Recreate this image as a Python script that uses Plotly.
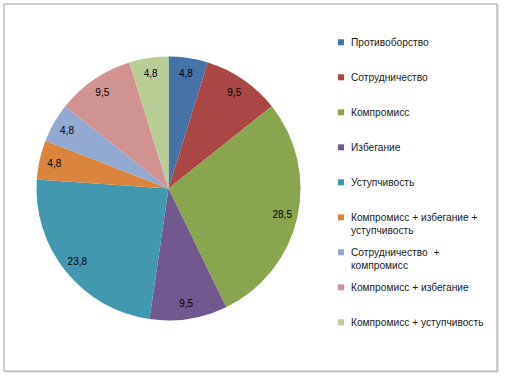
import plotly.graph_objects as go

labels = [
    "Противоборство",
    "Сотрудничество",
    "Компромисс",
    "Избегание",
    "Уступчивость",
    "Компромисс + избегание +<br>уступчивость",
    "Сотрудничество  +<br>компромисс",
    "Компромисс + избегание",
    "Компромисс + уступчивость",
]
values = [4.8, 9.5, 28.5, 9.5, 23.8, 4.8, 4.8, 9.5, 4.8]
colors = ["#4572A7", "#AA4643", "#89A54E", "#71588F", "#4198AF",
          "#DB843D", "#93A9CF", "#D19392", "#B9CD96"]

W, H = 505, 379
FONT = "Liberation Sans"

value_text = [f"{v:.1f}".replace(".", ",") for v in values]

# pie geometry (px): centre and radius
cx, cy, R = 168.5, 188.5, 132
dom_x = [(cx - R) / W, (cx + R) / W]
dom_y = [1 - (cy + R) / H, 1 - (cy - R) / H]

fig = go.Figure()
fig.add_trace(go.Pie(
    labels=[l.replace("<br>", " ") for l in labels], values=values, sort=False,
    direction="clockwise", rotation=0,
    marker=dict(colors=colors, line=dict(width=0)),
    textinfo="none", showlegend=False, hoverinfo="label+value",
    domain=dict(x=dom_x, y=dom_y),
))
# transparent ring carrying the data labels near the outer edge
fig.add_trace(go.Pie(
    labels=[l.replace("<br>", " ") for l in labels], values=values, sort=False,
    direction="clockwise", rotation=0, hole=0.77,
    marker=dict(colors=["rgba(0,0,0,0)"] * len(values), line=dict(width=0)),
    text=value_text, textinfo="text", textposition="inside",
    insidetextorientation="horizontal",
    textfont=dict(family=FONT, size=10, color="#000000"),
    showlegend=False, hoverinfo="skip",
    domain=dict(x=dom_x, y=dom_y),
))

# manual legend (Excel style spacing)
shapes = [
    # soft shadow on right/bottom edges
    dict(type="line", xref="paper", yref="paper",
         x0=498 / W, x1=498 / W, y0=1 - 372 / H, y1=1 - 5 / H,
         line=dict(color="#DADADA", width=1.5)),
    dict(type="line", xref="paper", yref="paper",
         x0=5 / W, x1=498 / W, y0=1 - 372 / H, y1=1 - 372 / H,
         line=dict(color="#DADADA", width=1.5)),
    dict(type="rect", xref="paper", yref="paper",
         x0=4 / W, x1=497 / W, y0=1 - 371 / H, y1=1 - 4 / H,
         line=dict(color="#BFBFBF", width=1.5), fillcolor="rgba(0,0,0,0)"),
]
annotations = []
for i, (lab, col) in enumerate(zip(labels, colors)):
    ym = 42.3 + 35.0 * i
    shapes.append(dict(type="rect", xref="paper", yref="paper",
                       x0=338 / W, x1=344 / W,
                       y0=1 - (ym + 3) / H, y1=1 - (ym - 3) / H,
                       line=dict(width=0), fillcolor=col))
    annotations.append(dict(xref="paper", yref="paper", x=348.5 / W,
                            y=1 - (ym - 7.5) / H, xanchor="left", yanchor="top",
                            text=lab, showarrow=False, align="left",
                            font=dict(family=FONT, size=10.2, color="#1A1A1A")))

fig.update_layout(
    width=W, height=H, margin=dict(l=0, r=0, t=0, b=0),
    paper_bgcolor="white", plot_bgcolor="white",
    shapes=shapes, annotations=annotations,
    uniformtext=dict(minsize=10, mode="show"),
)
fig.write_html("out.html", config={"displayModeBar": False},
               post_script="document.body.style.margin='0';document.body.style.overflow='hidden';")
